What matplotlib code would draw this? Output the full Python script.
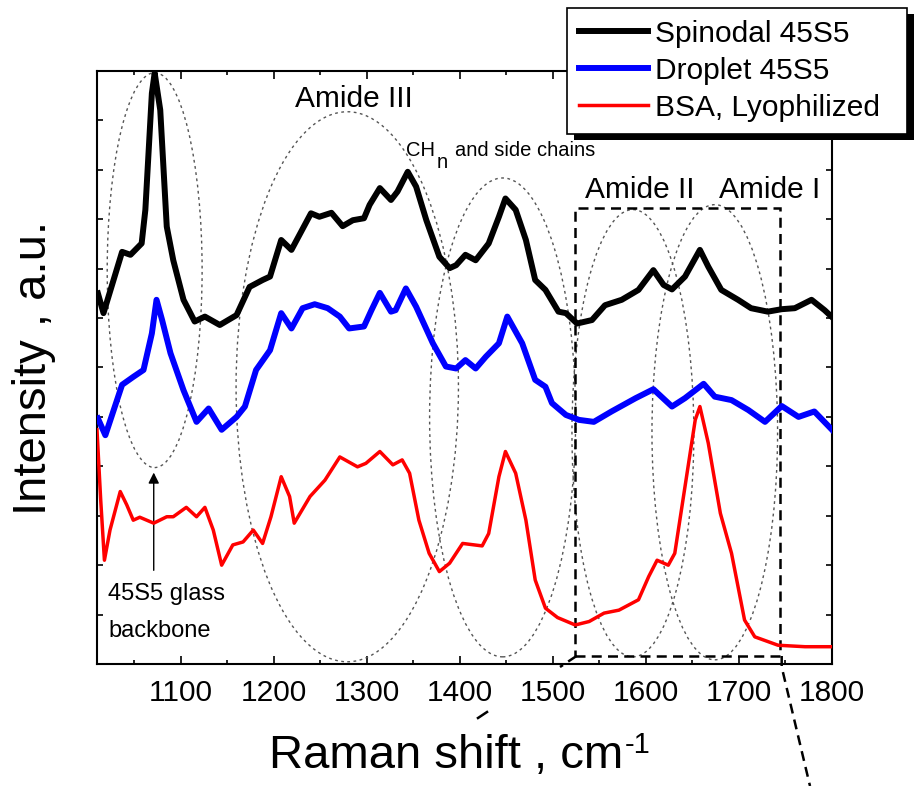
import numpy as np
import matplotlib
matplotlib.use("Agg")
import matplotlib.pyplot as plt
from matplotlib.patches import Ellipse, Rectangle
from matplotlib.lines import Line2D
from matplotlib.transforms import IdentityTransform

plt.rcParams['font.family'] = ['Liberation Sans', 'DejaVu Sans']

# spectra (Raman shift in cm-1, intensity in arbitrary units)
wn_spinodal = [1011, 1017, 1037, 1046, 1058, 1062, 1069, 1072, 1078, 1085, 1092, 1103, 1115, 1126,
               1142, 1160, 1174, 1188, 1196, 1208, 1219, 1240, 1249, 1262, 1274, 1285, 1297, 1303,
               1314, 1326, 1333, 1344, 1353, 1364, 1378, 1389, 1396, 1406, 1417, 1431, 1442, 1449,
               1460, 1471, 1481, 1492, 1506, 1514, 1526, 1542, 1556, 1574, 1592, 1608, 1619, 1628,
               1642, 1658, 1667, 1681, 1699, 1713, 1731, 1746, 1760, 1778, 1792, 1800]
int_spinodal = [7.50, 7.10, 8.34, 8.28, 8.51, 9.19, 11.55, 11.96, 11.21, 8.85, 8.17, 7.37, 6.93, 7.03,
                6.86, 7.06, 7.63, 7.77, 7.84, 8.58, 8.38, 9.12, 9.05, 9.13, 8.86, 8.98, 9.02, 9.29,
                9.63, 9.39, 9.56, 9.96, 9.66, 8.98, 8.24, 8.01, 8.07, 8.28, 8.17, 8.51, 9.05, 9.42,
                9.19, 8.58, 7.77, 7.57, 7.13, 7.10, 6.89, 6.96, 7.26, 7.37, 7.57, 7.97, 7.67, 7.58,
                7.84, 8.38, 8.04, 7.57, 7.37, 7.20, 7.13, 7.18, 7.20, 7.37, 7.16, 7.02]

wn_droplet = [1011, 1019, 1037, 1049, 1060, 1069, 1074, 1080, 1089, 1103, 1117, 1130, 1144, 1160,
              1169, 1181, 1196, 1208, 1219, 1231, 1244, 1258, 1271, 1281, 1297, 1305, 1314, 1326,
              1331, 1342, 1353, 1371, 1385, 1396, 1406, 1417, 1428, 1442, 1451, 1467, 1481, 1492,
              1499, 1514, 1528, 1544, 1563, 1589, 1608, 1628, 1642, 1662, 1674, 1692, 1710, 1728,
              1746, 1764, 1781, 1800]
int_droplet = [4.97, 4.63, 5.65, 5.81, 5.95, 6.69, 7.37, 6.96, 6.29, 5.54, 4.90, 5.17, 4.74, 5.00,
               5.21, 5.95, 6.35, 7.10, 6.79, 7.20, 7.28, 7.20, 7.03, 6.79, 6.83, 7.16, 7.51, 7.13,
               7.16, 7.60, 7.23, 6.49, 6.02, 5.98, 6.15, 5.98, 6.22, 6.49, 7.03, 6.49, 5.75, 5.61,
               5.28, 5.04, 4.94, 4.90, 5.11, 5.38, 5.56, 5.21, 5.38, 5.67, 5.41, 5.34, 5.14, 4.90,
               5.22, 5.00, 5.11, 4.74]

wn_bsa = [1010, 1014, 1018, 1024, 1035, 1042, 1049, 1056, 1071, 1085, 1092, 1106, 1117, 1126,
          1135, 1144, 1156, 1167, 1178, 1188, 1197, 1208, 1217, 1222, 1239, 1255, 1271, 1290,
          1299, 1314, 1328, 1338, 1346, 1356, 1367, 1378, 1389, 1403, 1424, 1431, 1442, 1449,
          1460, 1471, 1481, 1492, 1505, 1524, 1539, 1555, 1571, 1592, 1603, 1612, 1624, 1631,
          1642, 1653, 1658, 1667, 1680, 1692, 1706, 1717, 1742, 1771, 1800]
int_bsa = [4.74, 3.32, 2.10, 2.71, 3.49, 3.22, 2.91, 2.97, 2.85, 2.98, 2.98, 3.17, 2.98, 3.17,
           2.71, 2.00, 2.41, 2.47, 2.71, 2.44, 2.98, 3.79, 3.39, 2.85, 3.39, 3.72, 4.19, 3.99,
           4.06, 4.30, 4.03, 4.13, 3.86, 2.91, 2.24, 1.87, 2.04, 2.44, 2.39, 2.64, 3.79, 4.30,
           3.86, 2.91, 1.70, 1.13, 0.94, 0.79, 0.86, 1.03, 1.09, 1.30, 1.77, 2.10, 2.00, 2.24,
           3.59, 4.94, 5.21, 4.47, 3.05, 2.24, 0.89, 0.55, 0.38, 0.35, 0.35]

series_labels = ['Spinodal 45S5', 'Droplet 45S5', 'BSA, Lyophilized']

# band regions marked with dotted ellipses: (centre cm-1, centre y, width cm-1, height)
regions = [(1072, 7.97, 102, 7.99),
           (1279, 5.61, 239, 11.13),
           (1446, 4.99, 157, 9.69),
           (1586, 4.67, 131, 9.05),
           (1674, 4.69, 135, 9.21)]

fig = plt.figure(figsize=(9.14, 7.86), dpi=100)
ax = fig.add_axes([0.1061, 0.1552, 0.8042, 0.7545])

l1, = ax.plot(wn_spinodal, int_spinodal, color='black', lw=4.3, solid_joinstyle='round', zorder=4)
l2, = ax.plot(wn_droplet, int_droplet, color='#0000ff', lw=4.3, solid_joinstyle='round', zorder=4)
l3, = ax.plot(wn_bsa, int_bsa, color='#ff0000', lw=2.5, solid_joinstyle='round', zorder=4)

for cx, cy, w, h in regions:
    ax.add_patch(Ellipse((cx, cy), w, h, fill=False, ec='#555555', lw=1.0,
                         ls=(0, (2, 2.5)), zorder=2))

# dashed box around amide I/II
ax.add_patch(Rectangle((1524, 0.16), 1744 - 1524, 9.22 - 0.16, fill=False, ec='black', lw=1.8,
                       ls=(0, (4, 2.5)), zorder=3, clip_on=False))

ax.text(1286, 11.27, 'Amide III', fontsize=21.5, ha='center', va='baseline')
ax.text(1593, 9.43, 'Amide II', fontsize=21.5, ha='center', va='baseline')
ax.text(1733, 9.43, 'Amide I', fontsize=21.5, ha='center', va='baseline')
ax.text(1342, 10.28, 'CH', fontsize=14.5, ha='left', va='baseline')
ax.text(1375, 10.04, 'n', fontsize=14.5, ha='left', va='baseline')
ax.text(1395, 10.28, 'and side chains', fontsize=14.5, ha='left', va='baseline')
ax.text(1022, 1.30, '45S5 glass', fontsize=17, ha='left', va='baseline')
ax.text(1022, 0.55, 'backbone', fontsize=17, ha='left', va='baseline')
ax.annotate('', xy=(1071, 3.93), xytext=(1071, 1.84),
            arrowprops=dict(arrowstyle='-|>', color='black', lw=1.0, mutation_scale=16))

ax.set_xlim(1010, 1800)
ax.set_ylim(0, 12)
ax.set_xticks(np.arange(1100, 1801, 100))
ax.set_xticks(np.arange(1050, 1800, 100), minor=True)
ax.set_yticks(np.arange(0, 13, 1))
ax.set_yticklabels([])
ax.tick_params(which='both', direction='in', top=True, right=True, width=1.2)
ax.tick_params(axis='x', which='major', length=5.5, labelsize=21.5, pad=11)
ax.tick_params(axis='x', which='minor', length=3)
ax.tick_params(axis='y', length=4.5)
for s in ax.spines.values():
    s.set_linewidth(1.5)

ax.set_xlabel('Raman shift , cm', fontsize=34, labelpad=19)
ax.xaxis.label.set_x(0.475)
ax.set_ylabel('Intensity , a.u.', fontsize=34, labelpad=26)
ax.annotate('-1', xy=(1, 1), xycoords=ax.xaxis.label, xytext=(1, 2), textcoords='offset points',
            ha='left', va='top', fontsize=21)

# legend with a solid black drop shadow
leg = fig.legend([l1, l2, l3], series_labels, loc='upper left',
                 bbox_to_anchor=(567 / 914, 1 - 133 / 786, 340 / 914, 125 / 786), mode='expand',
                 fontsize=21.5, frameon=True, fancybox=False, edgecolor='black', framealpha=1,
                 borderpad=0.4, labelspacing=0.3, handlelength=2.3, handletextpad=0.25,
                 borderaxespad=0)
leg.get_frame().set_linewidth(1.2)
leg.set_zorder(10)

fig.canvas.draw()
bb = leg.get_frame().get_window_extent()
fig.add_artist(Rectangle((bb.x0 + 7, bb.y0 - 6), bb.width, bb.height, transform=IdentityTransform(),
                         fc='black', ec='none', zorder=5))

# dashed guide lines leaving the box
dash = dict(color='black', lw=1.8, ls=(0, (4, 2.5)))
fig.add_artist(Line2D([576.5 / 914, 560 / 914], [1 - 656 / 786, 1 - 667 / 786], **dash))
fig.add_artist(Line2D([487 / 914, 478 / 914], [1 - 712 / 786, 1 - 718 / 786], color='black', lw=1.8))
fig.add_artist(Line2D([781.7 / 914, 781.7 / 914, 810 / 914], [1 - 656 / 786, 1 - 667 / 786, 0], **dash))

fig.savefig('out.png', dpi=100)
